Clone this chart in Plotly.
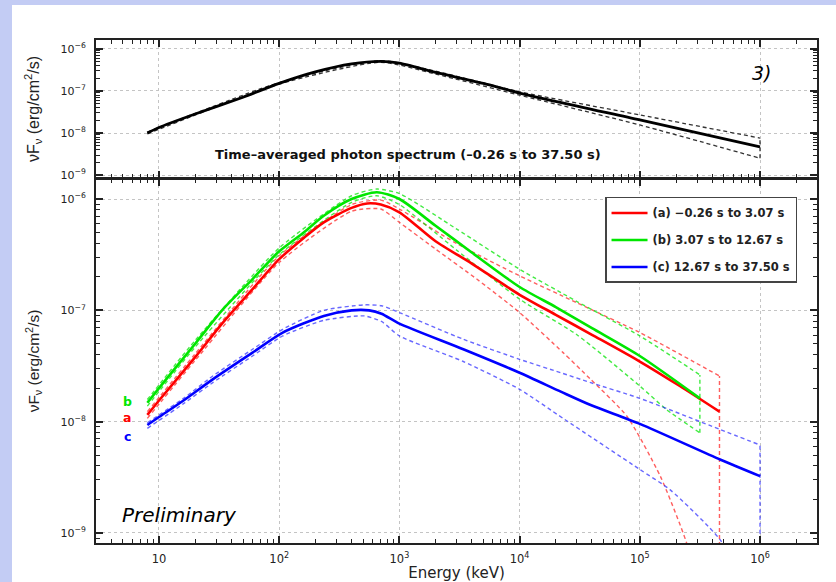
import math
import plotly.graph_objects as go

# ---------------- data (energies in keV, nuFnu in erg/cm2/s) ----------------
# Top panel: time-averaged spectrum
top_E = [8, 10, 20, 50, 100, 200, 400, 700, 1000, 2000, 5000, 10000, 100000, 1000000]
top_F = [1.00e-8, 1.35e-8, 2.82e-8, 7.08e-8, 1.51e-7, 2.82e-7, 4.37e-7, 5.01e-7,
         4.57e-7, 2.75e-7, 1.51e-7, 8.91e-8, 2.04e-8, 4.68e-9]
top_hi_E = [8, 100, 700, 2000, 10000, 100000, 1000000]
top_hi_F = [1.05e-8, 1.58e-7, 5.25e-7, 2.95e-7, 9.55e-8, 2.69e-8, 7.59e-9]
top_lo_E = [8, 100, 700, 2000, 10000, 100000, 1000000]
top_lo_F = [9.55e-9, 1.45e-7, 4.79e-7, 2.51e-7, 7.94e-8, 1.55e-8, 2.51e-9]

# Bottom panel: (a) -0.26 s to 3.07 s
a_E = [8, 10, 20, 34, 60, 100, 160, 235, 400, 540, 700, 1000, 2000, 4000,
       10000, 20000, 40000, 100000, 215000, 460000]
a_F = [1.15e-8, 1.55e-8, 3.80e-8, 7.76e-8, 1.55e-7, 2.88e-7, 4.47e-7, 6.17e-7,
       8.32e-7, 9.12e-7, 8.91e-7, 7.59e-7, 4.17e-7, 2.63e-7, 1.38e-7, 9.12e-8,
       6.03e-8, 3.47e-8, 2.09e-8, 1.23e-8]
a_hi_E = [8, 20, 100, 400, 700, 1000, 3000, 10000, 30000, 100000, 460000]
a_hi_F = [1.23e-8, 4.07e-8, 3.09e-7, 8.91e-7, 9.77e-7, 8.13e-7, 3.98e-7, 2.04e-7,
          1.17e-7, 6.31e-8, 2.57e-8]
a_lo_E = [8, 20, 100, 400, 700, 1000, 2000, 4400, 10000, 23000, 39000, 78000,
          148000, 245000, 320000, 460000]
a_lo_F = [1.07e-8, 3.55e-8, 2.69e-7, 7.76e-7, 8.13e-7, 6.17e-7, 3.55e-7, 1.91e-7,
          9.55e-8, 4.17e-8, 2.40e-8, 1.12e-8, 3.24e-9, 8.13e-10, 2.51e-10, 3.16e-11]

# (b) 3.07 s to 12.67 s
b_E = [8, 10, 20, 34, 60, 100, 160, 235, 400, 650, 1000, 2000, 4000, 10000,
       20000, 40000, 100000, 316000]
b_F = [1.48e-8, 2.00e-8, 5.01e-8, 1.02e-7, 1.91e-7, 3.39e-7, 5.01e-7, 7.08e-7,
       1.00e-6, 1.15e-6, 1.00e-6, 5.75e-7, 3.31e-7, 1.62e-7, 1.07e-7, 6.92e-8,
       3.89e-8, 1.62e-8]
b_hi_E = [8, 20, 100, 400, 650, 1000, 3000, 10000, 30000, 100000, 316000]
b_hi_F = [1.58e-8, 5.37e-8, 3.63e-7, 1.07e-6, 1.23e-6, 1.12e-6, 5.37e-7, 2.34e-7,
          1.20e-7, 5.89e-8, 2.63e-8]
b_lo_E = [8, 20, 100, 400, 650, 1000, 3000, 10000, 30000, 100000, 166000, 316000]
b_lo_F = [1.38e-8, 4.68e-8, 3.16e-7, 9.33e-7, 1.07e-6, 8.91e-7, 3.47e-7, 1.26e-7,
          6.03e-8, 2.09e-8, 1.29e-8, 7.94e-9]

# (c) 12.67 s to 37.50 s
c_E = [8, 10, 16, 28, 60, 107, 235, 400, 560, 710, 1000, 3400, 10000, 22000,
       39000, 100000, 465000, 1000000]
c_F = [9.33e-9, 1.10e-8, 1.55e-8, 2.40e-8, 4.17e-8, 6.31e-8, 8.91e-8, 1.00e-7,
       1.00e-7, 9.33e-8, 7.59e-8, 4.47e-8, 2.75e-8, 1.86e-8, 1.41e-8, 9.55e-9,
       4.57e-9, 3.24e-9]
c_hi_E = [8, 16, 28, 60, 107, 235, 510, 710, 1000, 3400, 10000, 22000, 39000,
          100000, 465000, 1000000]
c_hi_F = [9.77e-9, 1.62e-8, 2.57e-8, 4.47e-8, 6.76e-8, 1.00e-7, 1.12e-7, 1.10e-7,
          9.55e-8, 5.50e-8, 3.63e-8, 2.75e-8, 2.24e-8, 1.62e-8, 8.51e-9, 6.17e-9]
c_lo_E = [8, 16, 28, 60, 107, 235, 510, 710, 1000, 3400, 10000, 23000, 100000,
          178000, 465000, 1000000]
c_lo_F = [8.71e-9, 1.45e-8, 2.24e-8, 3.89e-8, 5.89e-8, 8.13e-8, 8.91e-8, 7.94e-8,
          5.89e-8, 3.47e-8, 1.95e-8, 1.07e-8, 3.72e-9, 2.45e-9, 8.71e-10, 2.00e-10]

series_names = ["(a) \u22120.26 s to 3.07 s", "(b) 3.07 s to 12.67 s",
                "(c) 12.67 s to 37.50 s"]
series_labels = ["a", "b", "c"]
label_F = [1.08e-8, 1.51e-8, 7.33e-9]

x_tick_vals = [10, 100, 1000, 10000, 100000, 1000000]
x_tick_text = ["10", "10<sup>2</sup>", "10<sup>3</sup>", "10<sup>4</sup>",
               "10<sup>5</sup>", "10<sup>6</sup>"]
y_tick_vals = [1e-9, 1e-8, 1e-7, 1e-6]
y_tick_text = ["10<sup>\u22129</sup>", "10<sup>\u22128</sup>",
               "10<sup>\u22127</sup>", "10<sup>\u22126</sup>"]

# ---------------- styling ----------------
FONT = "DejaVu Sans, sans-serif"
FONT_N = "Liberation Sans, Arial, sans-serif"
AX = "#222222"
colors = ["#ff0000", "#00e600", "#0000ff"]
dash_colors = ["rgba(255,40,40,0.75)", "rgba(20,230,20,0.8)", "rgba(40,40,255,0.7)"]
DASH = "4px,3px"

fig = go.Figure()


def add_band(loE, loF, hiE, hiF, color, width, xa, ya):
    style = dict(color=color, width=width, dash=DASH)
    fig.add_trace(go.Scatter(x=loE, y=loF, mode="lines",
                             line=dict(shape="spline", smoothing=0.6, **style),
                             xaxis=xa, yaxis=ya, showlegend=False, hoverinfo="skip"))
    fig.add_trace(go.Scatter(x=hiE, y=hiF, mode="lines",
                             line=dict(shape="spline", smoothing=0.6, **style),
                             xaxis=xa, yaxis=ya, showlegend=False, hoverinfo="skip"))
    fig.add_trace(go.Scatter(x=[loE[-1], hiE[-1]], y=[loF[-1], hiF[-1]], mode="lines",
                             line=style, xaxis=xa, yaxis=ya, showlegend=False,
                             hoverinfo="skip"))


# top panel
add_band(top_lo_E, top_lo_F, top_hi_E, top_hi_F, "#333333", 1.3, "x2", "y2")
fig.add_trace(go.Scatter(x=top_E, y=top_F, mode="lines",
                         line=dict(color="#000000", width=2.8, shape="spline",
                                   smoothing=0.7),
                         xaxis="x2", yaxis="y2", showlegend=False))

# bottom panel
bounds = [(a_lo_E, a_lo_F, a_hi_E, a_hi_F), (b_lo_E, b_lo_F, b_hi_E, b_hi_F),
          (c_lo_E, c_lo_F, c_hi_E, c_hi_F)]
solids = [(a_E, a_F), (b_E, b_F), (c_E, c_F)]
for i in range(3):
    loE, loF, hiE, hiF = bounds[i]
    add_band(loE, loF, hiE, hiF, dash_colors[i], 1.4, "x", "y")
for i in range(3):
    E, F = solids[i]
    fig.add_trace(go.Scatter(x=E, y=F, mode="lines", name=series_names[i],
                             line=dict(color=colors[i], width=2.6, shape="spline",
                                       smoothing=0.7),
                             legendgroup=series_labels[i],
                             xaxis="x", yaxis="y"))

minor_x = [m * 10 ** d for d in range(0, 7) for m in range(2, 10)]
minor_y = [m * 10.0 ** d for d in range(-10, -5) for m in range(2, 10)]


def xax(anchor, show_labels, rng):
    return dict(type="log", range=rng, anchor=anchor, automargin=False,
                tickvals=x_tick_vals, ticktext=x_tick_text, showticklabels=show_labels,
                ticks="inside", ticklen=7, tickwidth=1.5, tickcolor=AX,
                ticklabelstandoff=4,
                minor=dict(tickvals=minor_x, ticks="inside", ticklen=4, tickwidth=1,
                           tickcolor=AX, showgrid=False),
                showline=True, linecolor=AX, linewidth=2, mirror="ticks",
                showgrid=True, gridcolor="#c4c4c4", griddash="dot", gridwidth=1,
                tickfont=dict(family=FONT, size=11.5, color=AX), zeroline=False)


def yax(domain, anchor, rng, title_size):
    return dict(type="log", range=rng, domain=domain, anchor=anchor, automargin=False,
                tickvals=y_tick_vals, ticktext=y_tick_text,
                ticks="inside", ticklen=7, tickwidth=1.5, tickcolor=AX,
                ticklabelstandoff=6,
                minor=dict(tickvals=minor_y, ticks="inside", ticklen=4, tickwidth=1,
                           tickcolor=AX, showgrid=False),
                showline=True, linecolor=AX, linewidth=2, mirror="ticks",
                showgrid=True, gridcolor="#c4c4c4", griddash="dot", gridwidth=1,
                tickfont=dict(family=FONT, size=11, color=AX), zeroline=False,
                title=dict(text="\u03bdF<sub>\u03bd</sub> (erg/cm<sup>2</sup>/s)",
                           font=dict(family=FONT_N, size=title_size, color=AX),
                           standoff=17))


xa = xax("y", True, [0.476, 6.474])
xa["title"] = dict(text="Energy (keV)", font=dict(family=FONT, size=15, color=AX),
                   standoff=3)
xa2 = xax("y2", False, [0.476, 6.474])

fig.update_layout(
    width=836, height=582, autosize=False,
    margin=dict(l=96, r=19, t=40, b=39),
    paper_bgcolor="#c3ccf4", plot_bgcolor="#ffffff",
    font=dict(family=FONT, color=AX),
    xaxis=xa, xaxis2=xa2,
    yaxis=yax([0, 0.7237], "x", [-9.09, -5.82], 15.5),
    yaxis2=yax([0.7256, 1], "x2", [-9.07, -5.79], 16),
    showlegend=True,
    legend=dict(x=0.706, y=0.688, xanchor="left", yanchor="top",
                bgcolor="#ffffff", bordercolor="#444444", borderwidth=1.5,
                font=dict(family=FONT, size=11.5, color="#222222", weight="bold"),
                traceorder="grouped", tracegroupgap=8, itemwidth=36,
                entrywidth=150, entrywidthmode="pixels"),
    shapes=[dict(type="rect", xref="paper", yref="paper",
                 x0=(12 - 96) / 721, x1=(836 - 96) / 721,
                 y0=(543 - 582) / 503, y1=(543 - 5) / 503,
                 fillcolor="#ffffff", line=dict(width=0), layer="below")],
)

annotations = [
    dict(text="3)", x=6.02, y=-6.57, xref="x2", yref="y2", showarrow=False,
         font=dict(family=FONT, size=19, color="#000000", style="italic")),
    dict(text="Time\u2013averaged photon spectrum (\u20130.26 s to 37.50 s)",
         x=3.07, y=-8.52, xref="x2", yref="y2", showarrow=False,
         font=dict(family=FONT, size=13, color="#111111", weight="bold")),
    dict(text="Preliminary", x=0.676, y=-8.84, xref="x", yref="y", xanchor="left",
         showarrow=False,
         font=dict(family=FONT, size=20, color="#000000", style="italic")),
]
for i in range(3):
    annotations.append(dict(text=series_labels[i], x=0.734, y=math.log10(label_F[i]),
                            xref="x", yref="y", showarrow=False,
                            font=dict(family=FONT, size=12.5, color=colors[i],
                                      weight="bold")))
fig.update_layout(annotations=annotations)

fig.write_html("out.html", config={"displayModeBar": False},
               post_script="document.body.style.margin='0px';")
